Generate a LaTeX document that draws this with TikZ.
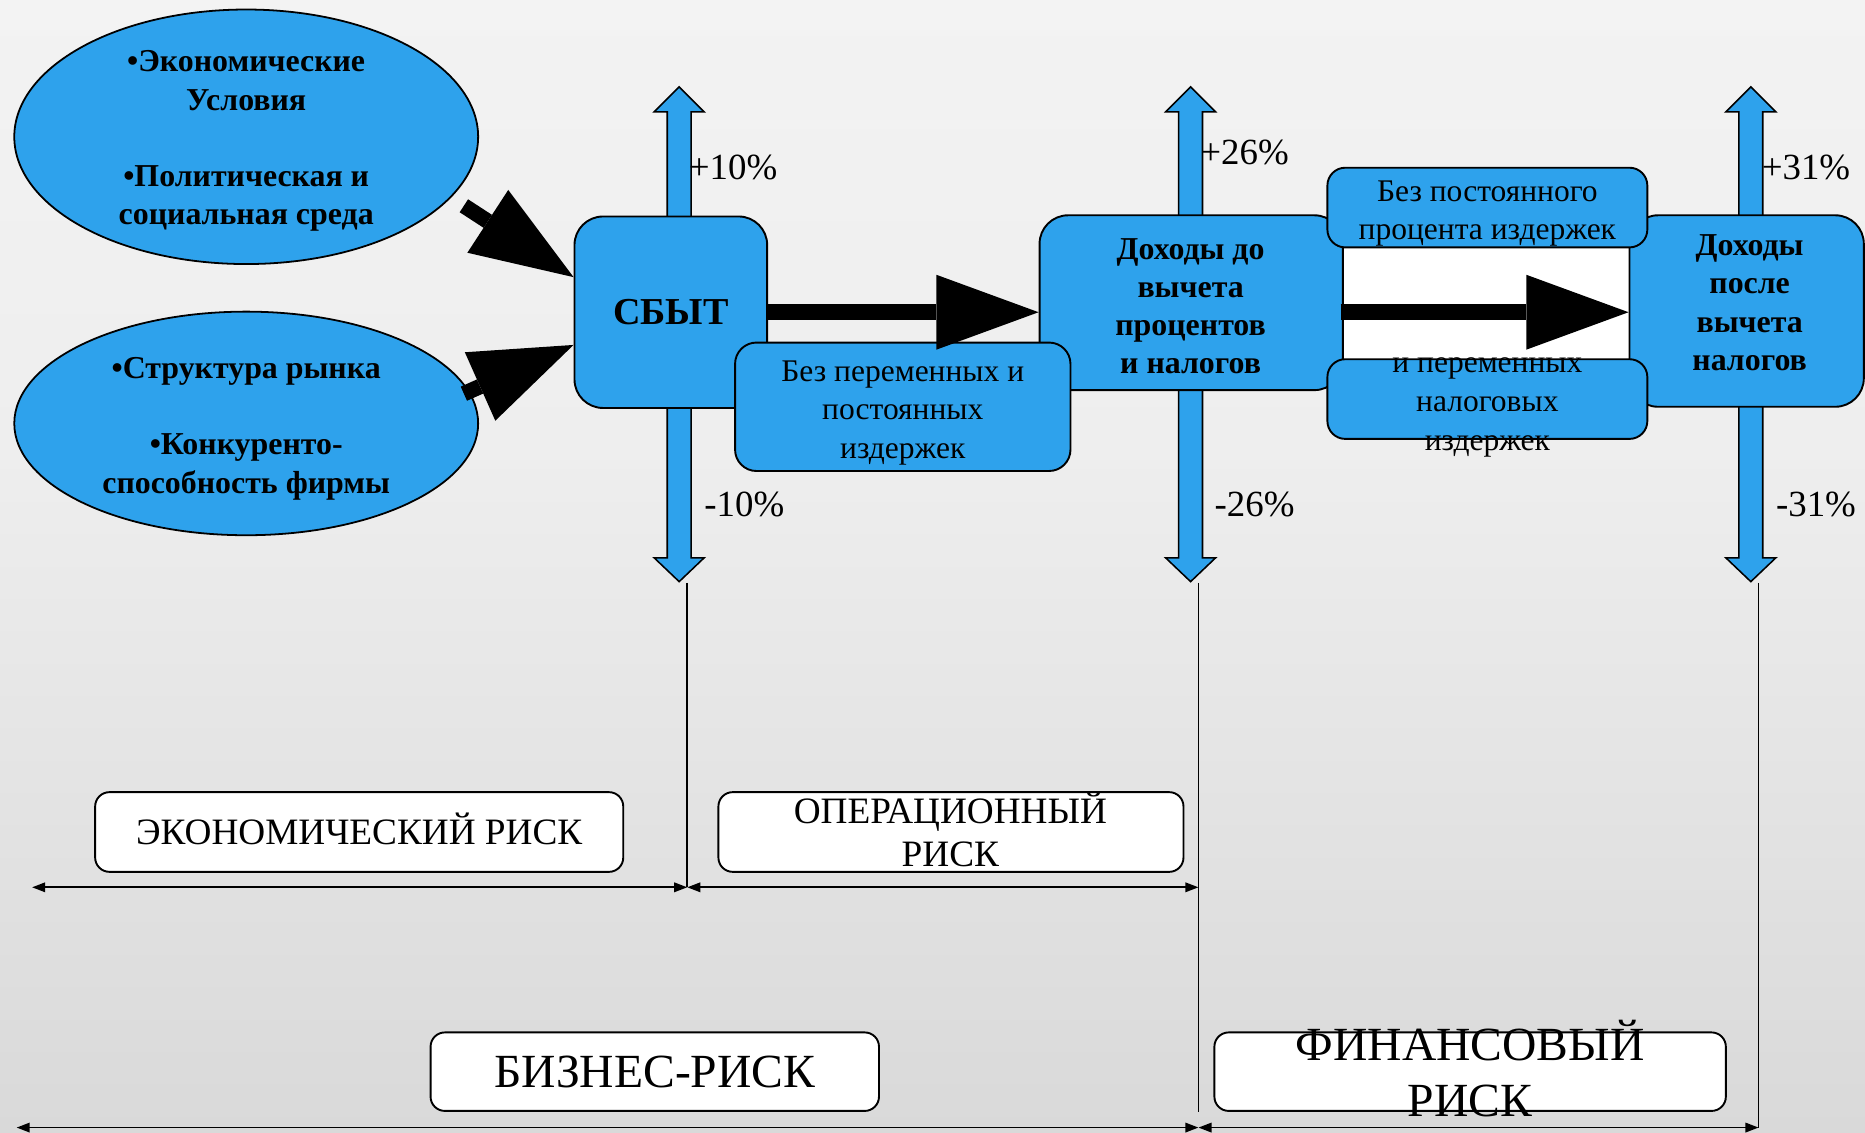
\documentclass[tikz,border=0pt]{standalone}
\usepackage{fontspec}
\setmainfont{Liberation Serif}
\usetikzlibrary{arrows.meta,shapes.geometric}

\definecolor{boxblue}{RGB}{46,162,236}
\definecolor{bgtop}{HTML}{F9F9F9}
\definecolor{bgmid}{HTML}{EEEEEE}
\definecolor{bglow}{HTML}{D9D9D9}
\definecolor{bgbot}{HTML}{C6C6C6}
\pgfdeclareverticalshading{pagebg}{100bp}{color(0bp)=(bgbot); color(25bp)=(bglow); color(55bp)=(bgmid); color(100bp)=(bgtop)}

\tikzset{
  factor/.style={ellipse, draw, fill=boxblue, line width=1.5pt, inner sep=0pt},
  factortext/.style={inner sep=0pt, align=center, font=\bfseries\fontsize{26.8pt}{32pt}\selectfont},
  stagebox/.style={draw, fill=boxblue, line width=1.6pt, rounded corners=24pt, inner sep=0pt, align=center,
    font=\bfseries\fontsize{26.8pt}{32pt}\selectfont},
  stagetext/.style={inner sep=0pt, align=center, font=\bfseries\fontsize{26.8pt}{32pt}\selectfont},
  costbox/.style={draw, fill=boxblue, line width=1.6pt, rounded corners=15pt, inner sep=0pt},
  costtext/.style={inner sep=0pt, align=center, font=\fontsize{26.5pt}{32.5pt}\selectfont},
  riskbox/.style={draw, fill=white, line width=1.6pt, rounded corners=12pt, inner sep=0pt},
  risktext/.style={inner sep=0pt, align=center},
  pct/.style={anchor=west, inner sep=0pt, font=\fontsize{31pt}{31pt}\selectfont},
  blockarrow/.style={line width=13pt, -{Triangle[length=86pt,width=63pt,line width=0pt]}},
  span/.style={line width=1.5pt, {Triangle[length=11pt,width=8pt]}-{Triangle[length=11pt,width=8pt]}},
  guide/.style={line width=1.5pt},
  vband/.pic={
    \draw[fill=boxblue, line width=1.3pt]
      (0,73) -- (21,94) -- (10,94) -- (10,469) -- (21,469) -- (0,489)
      -- (-21,469) -- (-10,469) -- (-10,94) -- (-21,94) -- cycle;
  }
}

\begin{document}
\begin{tikzpicture}[x=1pt,y=-1pt]
\useasboundingbox (0,0) rectangle (1568,952);
\shade[shading=pagebg] (0,0) rectangle (1568,952);

% risk factors
\node[factor, minimum width=390pt, minimum height=214pt] (e1) at (207,115) {};
\node[factortext] (e1text) at (207,118.5)
  {•Экономические\\Условия\\\strut\\•Политическая и\\социальная среда};
\node[factor, minimum width=390pt, minimum height=188pt] (e2) at (207,356) {};
\node[factortext] (e2text) at (207,360.5)
  {•Структура рынка\\\strut\\•Конкуренто-\\способность фирмы};

% up/down variation bands
\pic at (571,0) {vband};
\pic at (1001,0) {vband};
\pic at (1472,0) {vband};

% white gap between the two profit stages
\node[draw, fill=white, line width=1.6pt, inner sep=0pt, minimum width=243pt, minimum height=140pt] (gap) at (1249.5,254) {};

% stages
\node[stagebox, minimum width=162pt, minimum height=161pt, font=\bfseries\fontsize{32pt}{36pt}\selectfont] (sbyt) at (564,262.5) {СБЫТ};
\node[stagebox, minimum width=255pt, minimum height=147pt] (ebit) at (1001.5,254.5) {};
\node[stagetext] (ebittext) at (1001,257.5) {Доходы до\\вычета\\процентов\\и налогов};
\node[stagebox, minimum width=197pt, minimum height=161pt] (eat) at (1468.5,261.5) {};
\node[stagetext] (eattext) at (1471,254.5) {Доходы\\после\\вычета\\налогов};

% cost boxes
\node[costbox, rounded corners=18pt, minimum width=282pt, minimum height=108pt] (varfix) at (759,342) {};
\node[costtext] (varfixtext) at (759,347) {Без переменных и\\постоянных\\издержек};
\node[costbox, minimum width=269pt, minimum height=67pt] (fixint) at (1250.5,174.5) {};
\node[costtext] (fixinttext) at (1250.5,179.5) {Без постоянного\\процента издержек};
\node[costbox, minimum width=269pt, minimum height=67pt] (vartax) at (1250.5,335.5) {};
\node[costtext] (vartaxtext) at (1250.5,342.5) {и переменных\\налоговых\\издержек};

% flow arrows
\coordinate (t1) at (390,173);
\coordinate (t2) at (390,331);
\draw[blockarrow] (t1) -- ([yshift=29.5pt]sbyt.west);
\draw[blockarrow] (t2) -- ([yshift=-27.5pt]sbyt.west);
\draw[blockarrow] (sbyt.east) -- (sbyt.east -| ebit.west);
\draw[blockarrow] (sbyt.east -| gap.west) -- (sbyt.east -| eat.west);

% percentages
\node[pct] (p1) at (579,141) {+10\%};
\node[pct] (m1) at (592,424) {-10\%};
\node[pct] (p2) at (1009,128) {+26\%};
\node[pct] (m2) at (1021,424) {-26\%};
\node[pct] (p3) at (1481,141) {+31\%};
\node[pct] (m3) at (1493,424) {-31\%};

% risk labels
\node[riskbox, minimum width=444pt, minimum height=67pt] (econ) at (302,699.5) {};
\node[risktext, font=\fontsize{31.3pt}{36pt}\selectfont] (econtext) at (302,696.5) {ЭКОНОМИЧЕСКИЙ РИСК};
\node[riskbox, minimum width=391pt, minimum height=67pt] (oper) at (799.5,699.5) {};
\node[risktext, font=\fontsize{31.3pt}{36pt}\selectfont] (opertext) at (799,697) {ОПЕРАЦИОННЫЙ\\РИСК};
\node[riskbox, minimum width=377pt, minimum height=66pt] (biz) at (550.5,901) {};
\node[risktext, font=\fontsize{40pt}{47pt}\selectfont] (biztext) at (550.5,901.5) {БИЗНЕС-РИСК};
\node[riskbox, minimum width=430pt, minimum height=66pt] (fin) at (1236,901) {};
\node[risktext, font=\fontsize{40pt}{47pt}\selectfont] (fintext) at (1236,898.5) {ФИНАНСОВЫЙ\\РИСК};

% boundaries and spans
\coordinate (g1top) at (577.8,490);
\coordinate (g1bot) at (577.8,746);
\coordinate (g2top) at (1007.6,490);
\coordinate (g2mid) at (1007.6,746);
\coordinate (g2end) at (1007.6,935);
\coordinate (g2bot) at (1007.6,948);
\coordinate (g3top) at (1478.5,490);
\coordinate (g3bot) at (1478.5,948);
\coordinate (s1l) at (27,746);
\coordinate (s2l) at (14,948);
\draw[guide] (g1top) -- (g1bot);
\draw[guide] (g2top) -- (g2end);
\draw[guide] (g3top) -- (g3bot);
\draw[span] (s1l) -- (g1bot);
\draw[span] (g1bot) -- (g2mid);
\draw[span] (s2l) -- (g2bot);
\draw[span] (g2bot) -- (g3bot);
\end{tikzpicture}
\end{document}
